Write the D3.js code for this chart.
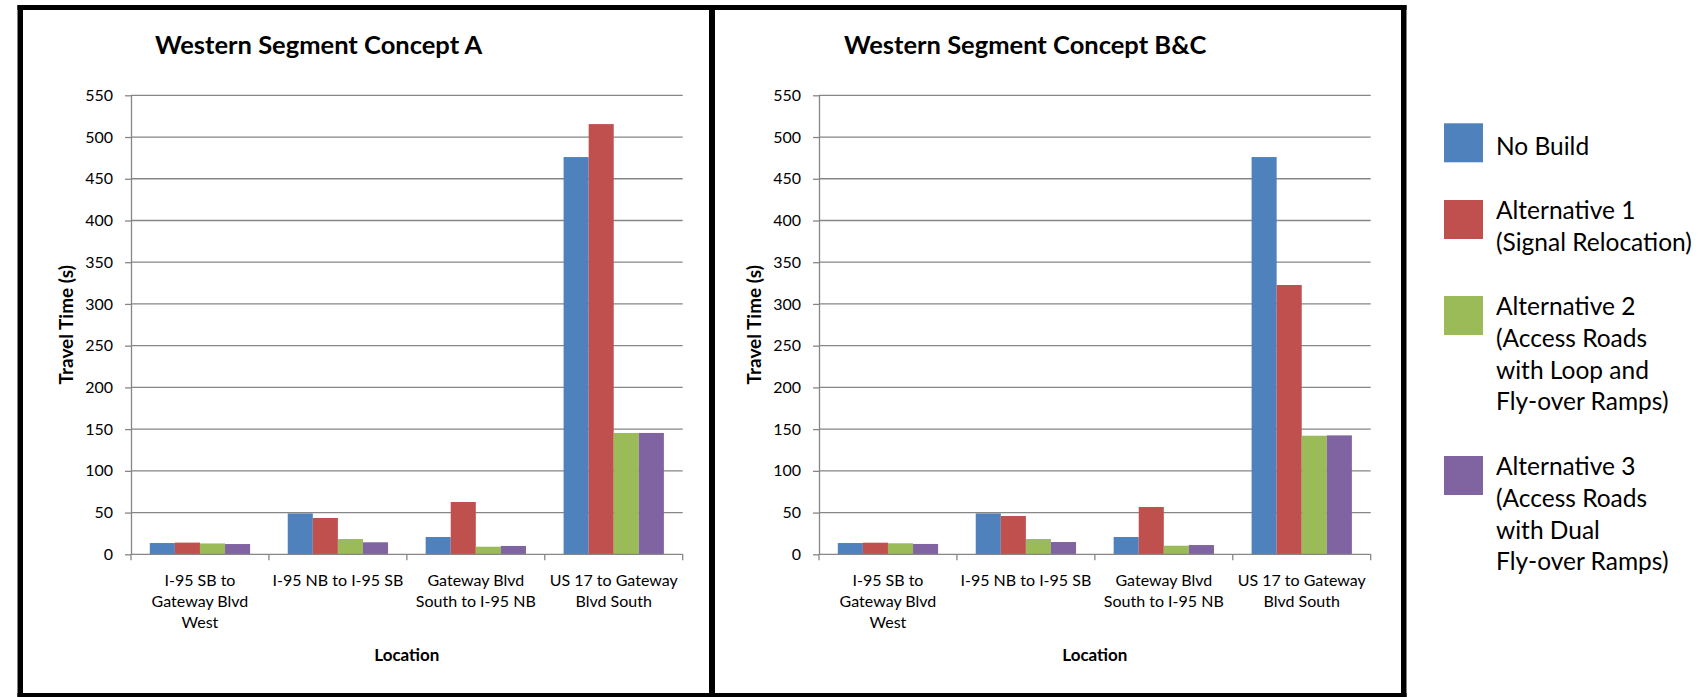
<!DOCTYPE html>
<html>
<head>
<meta charset="utf-8">
<script src="https://cdn.jsdelivr.net/npm/d3@7"></script>
<style>
  html, body { margin: 0; padding: 0; background: #fff; }
  svg { display: block; font-family: Lato, "Open Sans", sans-serif; }
</style>
</head>
<body>
<svg id="chart" width="1701" height="697"></svg>
<script>
// Locations along the corridor (line breaks mark wrapped axis labels)
const categories = [
  "I-95 SB to\nGateway Blvd\nWest",
  "I-95 NB to I-95 SB",
  "Gateway Blvd\nSouth to I-95 NB",
  "US 17 to Gateway\nBlvd South"
];

// Scenario names, legend wording and colours
const seriesNames = ["No Build", "Alternative 1", "Alternative 2", "Alternative 3"];
const legendLines = [
  ["No Build"],
  ["Alternative 1", "(Signal Relocation)"],
  ["Alternative 2", "(Access Roads", "with Loop and", "Fly-over Ramps)"],
  ["Alternative 3", "(Access Roads", "with Dual", "Fly-over Ramps)"]
];
const seriesColors = ["#4F81BD", "#C0504D", "#9BBB59", "#8064A2"];

// Travel time in seconds — Western Segment Concept A
const noBuildA = [13.5, 49.0, 20.7, 476.0];
const alt1A    = [14.0, 43.5, 62.7, 515.5];
const alt2A    = [13.0, 18.3,  9.1, 145.4];
const alt3A    = [12.3, 14.4, 10.0, 145.4];

// Travel time in seconds — Western Segment Concept B&C
const noBuildBC = [13.5, 49.0, 20.7, 476.0];
const alt1BC    = [13.9, 45.9, 56.7, 322.7];
const alt2BC    = [13.2, 18.3, 10.3, 142.1];
const alt3BC    = [12.4, 14.7, 11.1, 142.5];

// Value axis
const yTicks = [0, 50, 100, 150, 200, 250, 300, 350, 400, 450, 500, 550];
const yMax = 550;

const svg = d3.select("#chart");
const GRID = "#868686";

// Frames around the two chart panels
const frame = svg.append("g").attr("fill", "#000");
frame.append("rect").attr("x", 17.5).attr("y", 5).attr("width", 1389).attr("height", 5);
frame.append("rect").attr("x", 17.5).attr("y", 5).attr("width", 5.5).attr("height", 692);
frame.append("rect").attr("x", 709).attr("y", 5).attr("width", 6).attr("height", 692);
frame.append("rect").attr("x", 1401).attr("y", 5).attr("width", 5.5).attr("height", 692);
frame.append("rect").attr("x", 17.5).attr("y", 693).attr("width", 1389).attr("height", 4);

const panels = [
  { title: "Western Segment Concept A",   titleX: 155, left: 131, values: [noBuildA, alt1A, alt2A, alt3A] },
  { title: "Western Segment Concept B&C", titleX: 844, left: 819, values: [noBuildBC, alt1BC, alt2BC, alt3BC] }
];

const plotTop = 95.3, plotBottom = 554.3, plotWidth = 551.7;

panels.forEach(p => {
  const g = svg.append("g");
  const x = d3.scaleBand(categories, [p.left, p.left + plotWidth]).paddingInner(0).paddingOuter(0);
  const xs = d3.scaleBand(seriesNames, [0, x.bandwidth()]).paddingInner(0).paddingOuter(0.75);
  const y = d3.scaleLinear([0, yMax], [plotBottom, plotTop]);

  // title
  g.append("text")
    .attr("x", p.titleX).attr("y", 54)
    .attr("font-size", 25.5).attr("font-weight", 700).attr("fill", "#000")
    .text(p.title);

  // horizontal gridlines
  g.append("g").selectAll("line").data(yTicks.filter(t => t > 0)).join("line")
    .attr("x1", p.left).attr("x2", p.left + plotWidth)
    .attr("y1", d => y(d)).attr("y2", d => y(d))
    .attr("stroke", GRID).attr("stroke-width", 1.3);

  // bars
  p.values.forEach((vals, si) => {
    g.append("g").attr("fill", seriesColors[si])
      .selectAll("rect").data(vals).join("rect")
      .attr("x", (d, i) => x(categories[i]) + xs(seriesNames[si]))
      .attr("width", xs.bandwidth())
      .attr("y", d => y(d))
      .attr("height", d => y(0) - y(d));
  });

  // value axis
  const yAxis = g.append("g")
    .attr("transform", `translate(${p.left},0)`)
    .call(d3.axisLeft(y).tickValues(yTicks).tickSize(6).tickPadding(12).tickSizeOuter(0));
  yAxis.select(".domain").attr("stroke", GRID).attr("stroke-width", 1.3);
  yAxis.selectAll(".tick line").attr("stroke", GRID).attr("stroke-width", 1.3);
  yAxis.selectAll(".tick text").attr("font-family", "Lato, sans-serif")
    .attr("font-size", 16).attr("fill", "#000");

  // category axis: baseline plus boundary ticks
  const xAxis = g.append("g");
  xAxis.append("line")
    .attr("x1", p.left).attr("x2", p.left + plotWidth)
    .attr("y1", y(0)).attr("y2", y(0))
    .attr("stroke", GRID).attr("stroke-width", 1.3);
  const bounds = categories.map(c => x(c)).concat([x(categories[categories.length - 1]) + x.bandwidth()]);
  xAxis.selectAll("line.tk").data(bounds).join("line").attr("class", "tk")
    .attr("x1", d => d).attr("x2", d => d)
    .attr("y1", y(0)).attr("y2", y(0) + 6)
    .attr("stroke", GRID).attr("stroke-width", 1.3);

  // category labels
  const labels = xAxis.selectAll("text.cat").data(categories).join("text").attr("class", "cat")
    .attr("text-anchor", "middle").attr("font-size", 16).attr("fill", "#000");
  labels.each(function (c) {
    const t = d3.select(this);
    c.split("\n").forEach((line, li) => {
      t.append("tspan")
        .attr("x", x(c) + x.bandwidth() / 2)
        .attr("y", 586 + li * 21)
        .text(line);
    });
  });

  // axis titles
  g.append("text")
    .attr("x", p.left + plotWidth / 2).attr("y", 661)
    .attr("text-anchor", "middle").attr("font-size", 17).attr("font-weight", 700)
    .text("Location");
  g.append("text")
    .attr("transform", `translate(${p.left - 58},${(plotTop + plotBottom) / 2}) rotate(-90)`)
    .attr("text-anchor", "middle").attr("font-size", 19).attr("font-weight", 700)
    .text("Travel Time (s)");
});

// legend
const legendTops = [123.3, 200, 296, 456];
const legend = svg.append("g");
legendLines.forEach((lines, i) => {
  const top = legendTops[i];
  legend.append("rect")
    .attr("x", 1444).attr("y", top).attr("width", 39).attr("height", 39)
    .attr("fill", seriesColors[i]);
  const first = lines.length === 1 ? top + 31.7 : top + 19.3;
  const t = legend.append("text").attr("font-size", 24.5).attr("fill", "#000");
  lines.forEach((line, li) => {
    t.append("tspan").attr("x", 1496).attr("y", first + li * 31.6).text(line);
  });
});
</script>
</body>
</html>
